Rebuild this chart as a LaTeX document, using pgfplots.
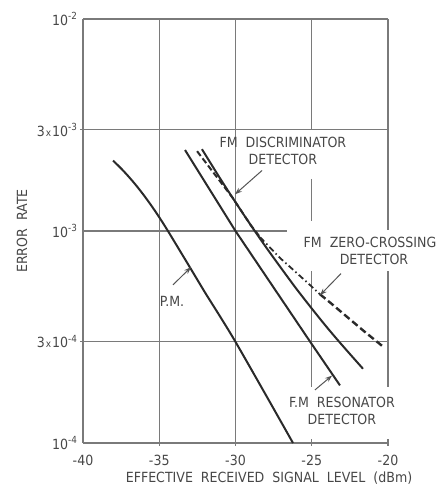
\documentclass[border=0pt]{standalone}
\usepackage{fontspec}
\setmainfont{DejaVu Sans Condensed}
\usepackage{pgfplots}
\pgfplotsset{compat=1.18}
\usetikzlibrary{arrows.meta}
\definecolor{gridc}{HTML}{7A7A7A}
\definecolor{curvec}{HTML}{2A2A2A}
\definecolor{textc}{HTML}{474747}
\definecolor{arrc}{HTML}{555555}
\newcommand{\tx}{{\fontsize{10}{10}\selectfont x}}
\begin{document}
\begin{tikzpicture}
\useasboundingbox (0,0) rectangle (440pt,486pt);
\begin{axis}[
  at={(83pt,43pt)}, anchor=south west,
  scale only axis, width=305pt, height=424pt,
  ymode=log, xmin=-40, xmax=-20, ymin=1e-4, ymax=1e-2,
  axis line style={draw=none},
  major tick length=0pt, minor tick length=0pt,
  xtick={-40,-35,-30,-25,-20},
  xticklabels={-40,-35,-30,-25,-20},
  ytick={1e-4,3e-4,1e-3,3e-3,1e-2},
  minor ytick={},
  yticklabels={10\textsuperscript{-4},3\kern1pt\tx\kern1pt10\textsuperscript{-4},10\textsuperscript{-3},3\kern1pt\tx\kern1pt10\textsuperscript{-3},10\textsuperscript{-2}},
  tick label style={font=\fontsize{14}{16}\selectfont, text=textc},
  xticklabel style={yshift=-9pt},
  yticklabel style={xshift=-2pt},
  clip=false,
  grid=none,
]
% grid / frame
\begin{scope}[draw=gridc, line width=1.2pt]
\draw (axis cs:-40,1e-2) -- (axis cs:-20,1e-2);
\draw ([xshift=-3pt]axis cs:-40,3e-3) -- (axis cs:-20,3e-3);
\draw (axis cs:-40,1e-3) -- (axis cs:-26.6,1e-3);
\draw ([xshift=-3pt]axis cs:-40,3e-4) -- (axis cs:-20,3e-4);
\draw (axis cs:-40,1e-4) -- (axis cs:-20,1e-4);
\draw (axis cs:-40,1e-2) -- (axis cs:-40,1e-4);
\draw (axis cs:-35,1e-2) -- ([yshift=-3pt]axis cs:-35,1e-4);
\draw (axis cs:-30,1e-2) -- ([yshift=-3pt]axis cs:-30,1e-4);
\draw (axis cs:-25,1e-2) -- (axis cs:-25,3e-3);
\draw (axis cs:-25,1.76e-3) -- (axis cs:-25,1.12e-3);
\draw (axis cs:-25,6.45e-4) -- (axis cs:-25,1.83e-4);
\draw ([yshift=4pt]axis cs:-25,1e-4) -- ([yshift=-3pt]axis cs:-25,1e-4);
\draw (axis cs:-20,1e-2) -- (axis cs:-20,1.01e-3);
\draw (axis cs:-20,6.45e-4) -- (axis cs:-20,1.83e-4);
\draw ([yshift=4pt]axis cs:-20,1e-4) -- ([yshift=-3pt]axis cs:-20,1e-4);
\end{scope}
% P.M.
\addplot[curvec, line width=2pt, smooth] coordinates {
(-38.03,2.148e-3) (-37.5,1.972e-3) (-37,1.803e-3) (-36.5,1.636e-3) (-36,1.471e-3)
(-35.5,1.312e-3) (-35,1.161e-3) (-34.43,1.0e-3) (-33,6.76e-4) (-32,5.13e-4)
(-31,3.94e-4) (-30,3.0e-4) (-28,1.68e-4) (-26.23,1.0e-4)};
% FM resonator
\addplot[curvec, line width=2pt] coordinates {
(-33.31,2.41e-3) (-30.0,1.0e-3) (-25.1,3.0e-4) (-23.15,1.87e-4)};
% FM discriminator
\addplot[curvec, line width=2pt, smooth] coordinates {
(-32.2,2.432e-3) (-31,1.766e-3) (-30,1.367e-3) (-29,1.066e-3) (-28,8.39e-4)
(-27,6.67e-4) (-26,5.33e-4) (-25,4.31e-4) (-24,3.51e-4) (-23,2.89e-4) (-21.64,2.24e-4)};
% FM zero-crossing
\addplot[curvec, line width=2pt, dash pattern=on 6pt off 3pt] coordinates {
(-32.52,2.38e-3) (-30.2,1.438e-3) (-29,1.066e-3) (-28.39,9.35e-4)};
\addplot[curvec, line width=1.8pt, dash pattern=on 6pt off 3pt on 1.5pt off 3pt] coordinates {
(-28.39,9.35e-4) (-27.08,7.46e-4) (-26.10,6.45e-4) (-24.98,5.45e-4) (-24.46,5.03e-4)};
\addplot[curvec, line width=2.4pt, dash pattern=on 7pt off 3.5pt] coordinates {
(-24.46,5.03e-4) (-23.80,4.6e-4) (-21.64,3.40e-4) (-20.33,2.85e-4)};
% annotations
\begin{scope}[font=\fontsize{14}{17}\selectfont, text=textc]
\node[align=center] at (axis cs:-26.89,2.38e-3) {FM\ \ DISCRIMINATOR\\DETECTOR};
\node[align=center] at (axis cs:-21.18,8.07e-4) {FM\ \ ZERO-CROSSING\\\ \ DETECTOR};
\node at (axis cs:-34.16,4.66e-4) {P.M.};
\node[align=center] at (axis cs:-23.02,1.41e-4) {F.M\ \ RESONATOR\\DETECTOR};
\node[rotate=90] at (rel axis cs:-0.2,0.5) {ERROR\ \ RATE};
\node at (rel axis cs:0.61,-0.0825) {EFFECTIVE\ \ RECEIVED\ \ SIGNAL\ \ LEVEL\ \ (dBm)};
\end{scope}
\begin{scope}[draw=arrc, line width=1pt, -{Stealth[length=7pt,width=5pt]}]
\draw (axis cs:-28.26,1.93e-3) -- (axis cs:-30.03,1.49e-3);
\draw (axis cs:-23.08,6.3e-4) -- (axis cs:-24.46,4.98e-4);
\draw (axis cs:-34.1,5.57e-4) -- (axis cs:-32.92,6.75e-4);
\draw (axis cs:-24.79,1.78e-4) -- (axis cs:-23.67,2.08e-4);
\end{scope}
\end{axis}
\end{tikzpicture}
\end{document}
